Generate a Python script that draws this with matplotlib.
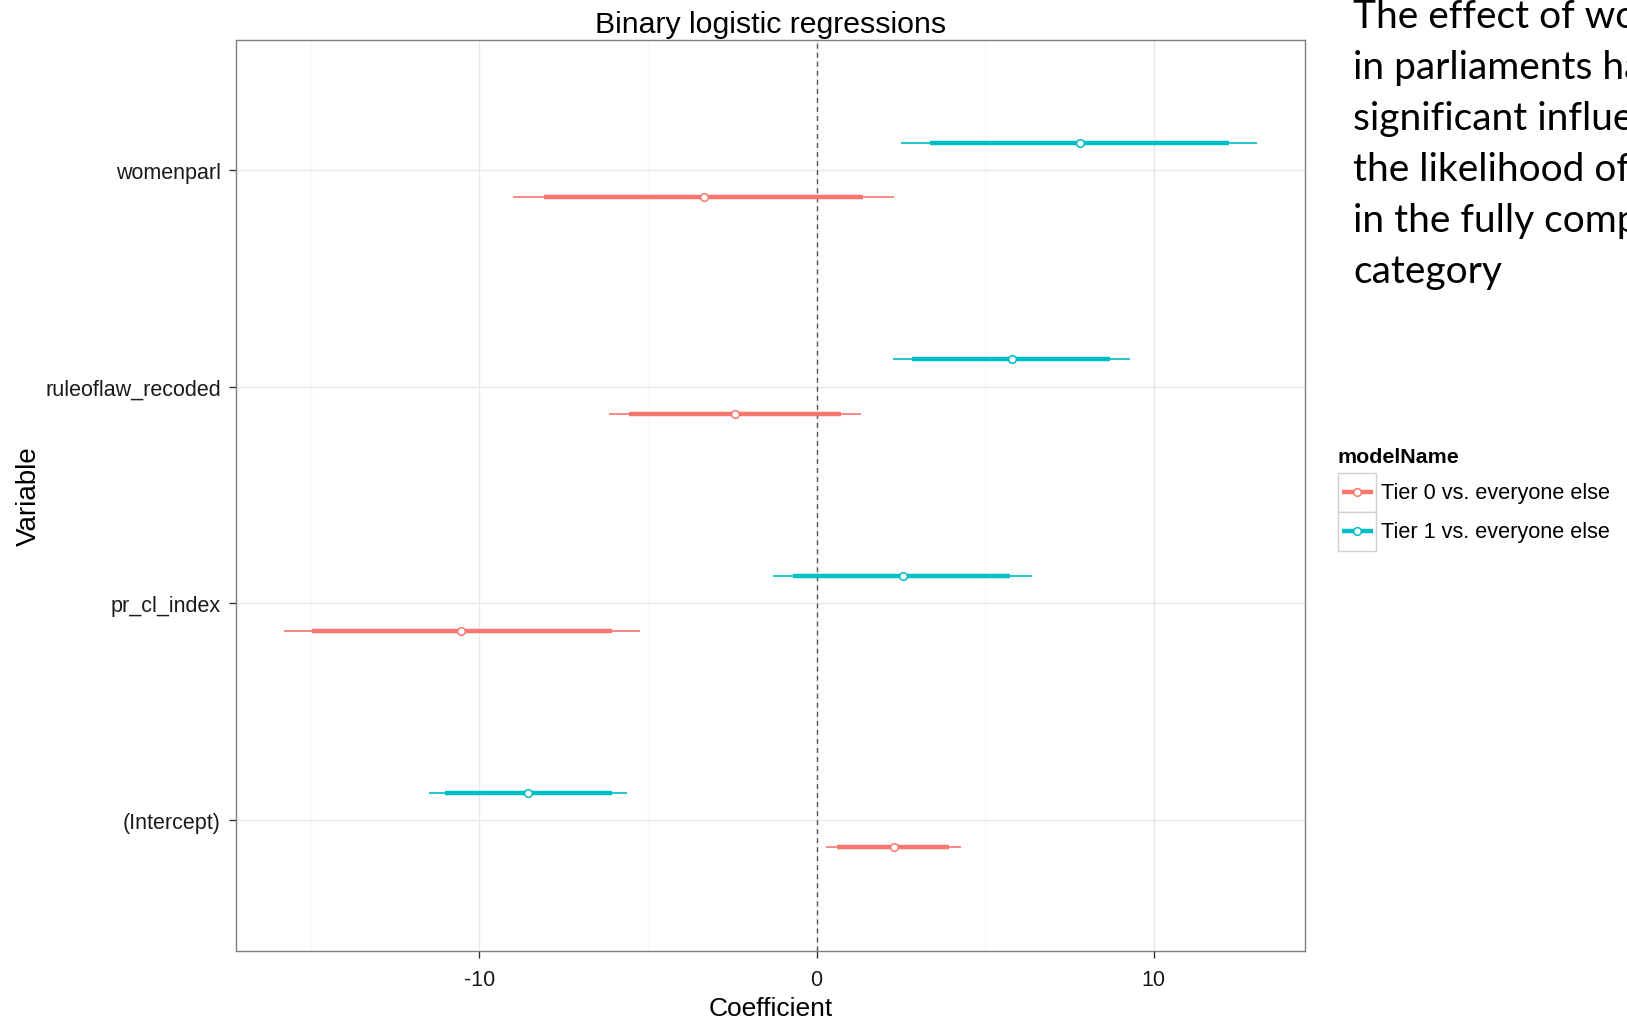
import matplotlib
matplotlib.use("Agg")
import matplotlib.pyplot as plt
from matplotlib.lines import Line2D
from matplotlib.patches import Rectangle

# ---------------- data ----------------
variables = ["(Intercept)", "pr_cl_index", "ruleoflaw_recoded", "womenparl"]
model_names = ["Tier 0 vs. everyone else", "Tier 1 vs. everyone else"]
model_colors = ["#F8766D", "#00BFC4"]

tier0_est      = [2.28, -10.54, -2.41, -3.33]
tier0_inner_lo = [0.61, -14.97, -5.55, -8.07]
tier0_inner_hi = [3.92, -6.08, 0.72, 1.38]
tier0_outer_lo = [0.29, -15.80, -6.15, -8.99]
tier0_outer_hi = [4.29, -5.24, 1.32, 2.30]

tier1_est      = [-8.55, 2.55, 5.80, 7.82]
tier1_inner_lo = [-11.02, -0.69, 2.84, 3.37]
tier1_inner_hi = [-6.07, 5.74, 8.71, 12.23]
tier1_outer_lo = [-11.50, -1.28, 2.27, 2.50]
tier1_outer_hi = [-5.62, 6.38, 9.30, 13.06]

x_major_ticks = [-10, 0, 10]
x_minor_ticks = [-15, -5, 5]

side_text_lines = [
    "The effect of women",
    "in parliaments has a",
    "significant influence on",
    "the likelihood of being",
    "in the fully compliant",
    "category",
]

# ---------------- figure ----------------
W, H = 1627, 1020
fig = plt.figure(figsize=(W / 100, H / 100), dpi=100)
fig.patch.set_facecolor("white")

def fx(px):
    return px / W

def fy(py):
    return 1 - py / H

L, R, T, B = 235.5, 1305.3, 40.5, 951.5
ax = fig.add_axes([fx(L), fy(B), (R - L) / W, (B - T) / H])

FONT = "Liberation Sans"
TXT = "#1a1a1a"

ypos = list(range(1, len(variables) + 1))
dodge = 0.125

models = [
    (tier0_est, tier0_inner_lo, tier0_inner_hi, tier0_outer_lo, tier0_outer_hi, -dodge),
    (tier1_est, tier1_inner_lo, tier1_inner_hi, tier1_outer_lo, tier1_outer_hi, +dodge),
]

ax.axvline(0, color="#555555", lw=1.0, ls=(0, (3.6, 2.9)), zorder=2)

for (est, ilo, ihi, olo, ohi, off), col in zip(models, model_colors):
    yy = [y + off for y in ypos]
    ax.hlines(yy, olo, ohi, color=col, lw=1.2, zorder=3)
    ax.hlines(yy, ilo, ihi, color=col, lw=3.2, zorder=4)
    ax.plot(est, yy, "o", mfc="white", mec=col, ms=5.5, mew=1.1, zorder=5, ls="none")

ax.set_xlim(-17.23, 14.49)
ax.set_ylim(0.4, 4.6)
ax.set_xticks(x_major_ticks)
ax.set_xticks(x_minor_ticks, minor=True)
ax.set_xticklabels([str(v) for v in x_major_ticks])
ax.set_yticks(ypos)
ax.set_yticklabels(variables)

ax.grid(which="major", color="#e8e8e8", lw=1.0, zorder=0)
ax.grid(which="minor", axis="x", color="#f7f7f7", lw=1.0, zorder=0)
ax.set_axisbelow(True)

for s in ax.spines.values():
    s.set_color("#7f7f7f")
    s.set_linewidth(1.0)

ax.tick_params(which="major", length=5, width=1, color="#333333",
               labelsize=15.5, labelcolor=TXT)
ax.tick_params(axis="x", which="major", pad=8)
ax.tick_params(axis="y", which="major", pad=5.5)
ax.tick_params(which="minor", length=0)
for lab in ax.get_xticklabels() + ax.get_yticklabels():
    lab.set_fontfamily(FONT)

ax.set_xlabel("Coefficient", fontsize=19, fontfamily=FONT, color="black")
ax.set_ylabel("Variable", fontsize=20, fontfamily=FONT, color="black")
ax.xaxis.set_label_coords(0.5, (B - 1009.5) / (B - T))
ax.yaxis.set_label_coords((29 - L) / (R - L), 0.5)
ax.xaxis.label.set_verticalalignment("center")
ax.yaxis.label.set_verticalalignment("center")

ax.text(0.5, 1 + (T - 25) / (B - T), "Binary logistic regressions", transform=ax.transAxes,
        ha="center", va="center", fontsize=21.8, fontfamily=FONT, color="black")

# ---------------- legend (ggplot-style) ----------------
fig.text(fx(1337.5), fy(457.5), "modelName", ha="left", va="center",
         fontsize=15.4, fontweight="bold", fontfamily=FONT, color="black")
key_tops = [474.0, 513.0]
key_h = 38.5
for name, col, kt in zip(model_names, model_colors, key_tops):
    fig.add_artist(Rectangle((fx(1337.5), fy(kt + key_h)), 38.5 / W, key_h / H,
                             transform=fig.transFigure, facecolor="white",
                             edgecolor="#d0d0d0", lw=1.0))
    yc = fy(kt + key_h / 2)
    fig.add_artist(Line2D([fx(1341.5), fx(1372.5)], [yc, yc], transform=fig.transFigure,
                          color=col, lw=3.2, solid_capstyle="butt"))
    fig.add_artist(Line2D([fx(1357)], [yc], transform=fig.transFigure, marker="o",
                          mfc="white", mec=col, ms=5.5, mew=1.1, ls="none"))
    fig.text(fx(1381), yc, name, ha="left", va="center", fontsize=15.6,
             fontfamily=FONT, color="black")

# ---------------- side text ----------------
for i, line in enumerate(side_text_lines):
    fig.text(fx(1353), fy(28 + 51 * i), line, ha="left", va="baseline",
             fontsize=28, fontfamily="Lato", color="black")

fig.savefig("out.png", dpi=100, facecolor="white")
